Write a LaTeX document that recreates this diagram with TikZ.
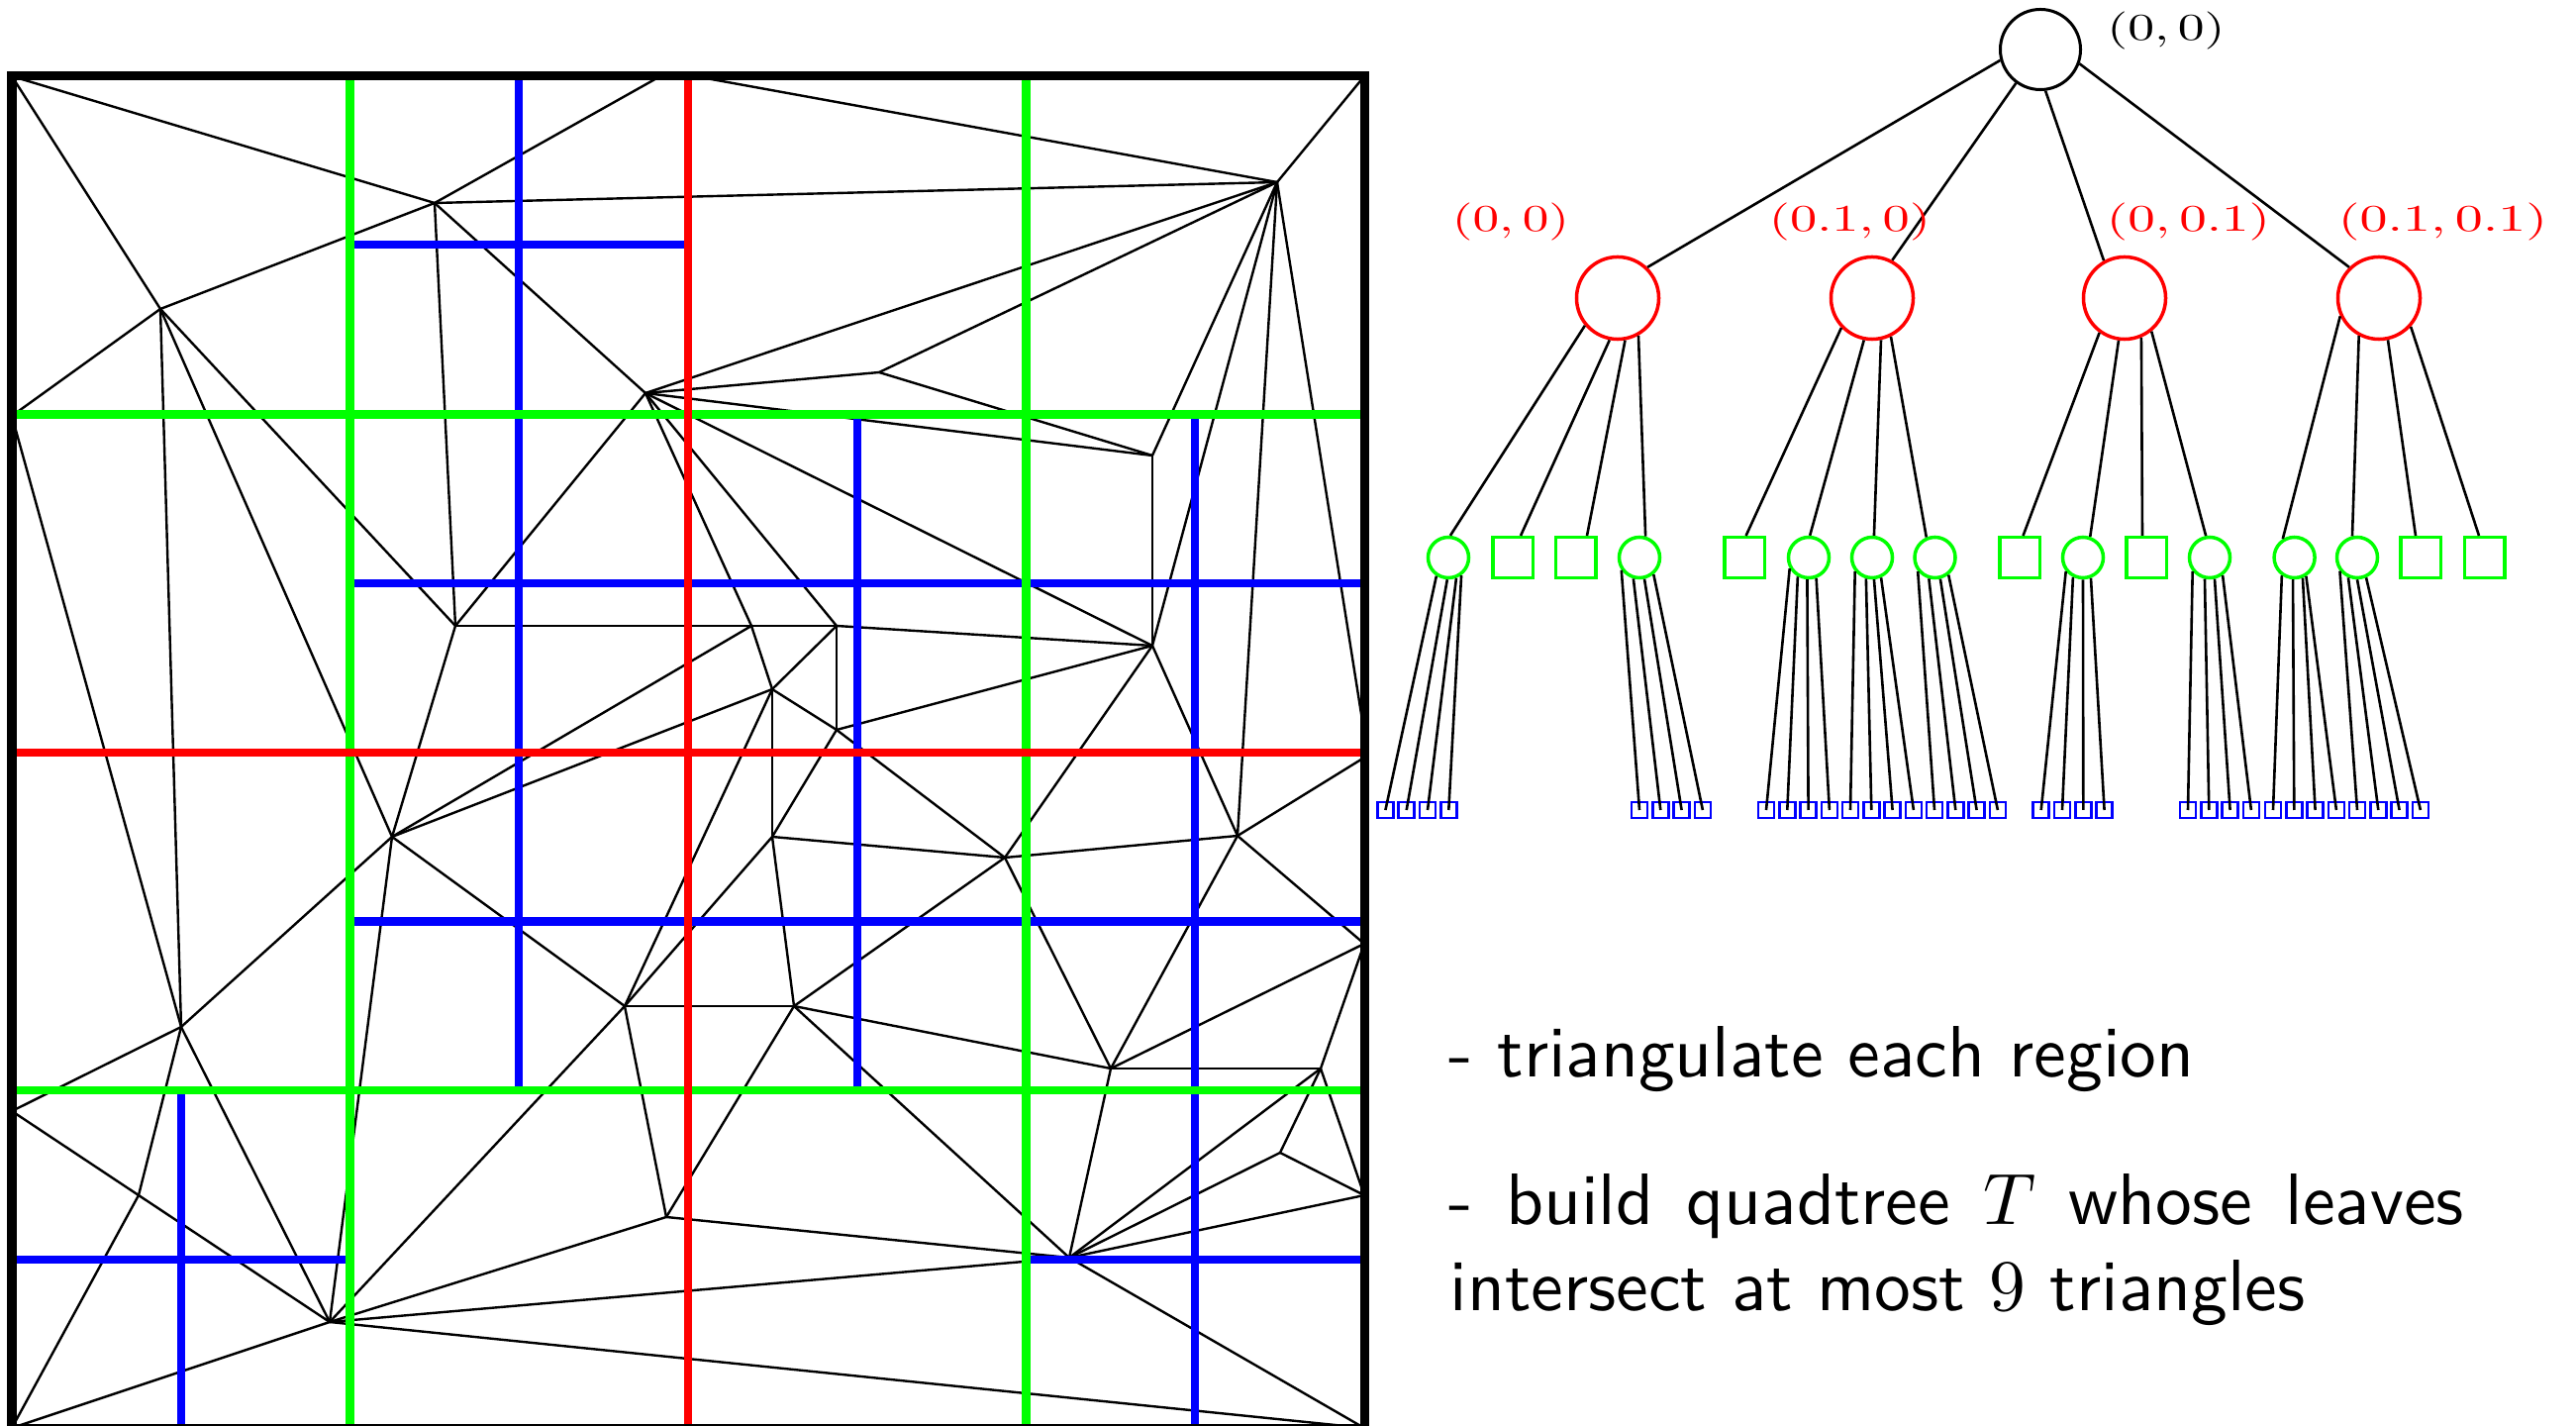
\documentclass[tikz,border=0pt]{standalone}
\usepackage{graphicx}
\definecolor{qred}{RGB}{255,0,0}
\definecolor{qgreen}{RGB}{0,255,0}
\definecolor{qblue}{RGB}{0,0,255}
\begin{document}
\begin{tikzpicture}[x=0.01cm,y=-0.01cm,
  tri/.style={line width=0.024cm, black},
  gred/.style={line width=0.085cm, qred},
  ggreen/.style={line width=0.085cm, qgreen},
  gblue/.style={line width=0.085cm, qblue},
  frame/.style={line width=0.09cm, black},
  rootc/.style={circle, draw=black, line width=0.03cm, minimum size=0.81cm, inner sep=0pt},
  redc/.style={circle, draw=qred, line width=0.035cm, minimum size=0.83cm, inner sep=0pt},
  greenc/.style={circle, draw=qgreen, line width=0.035cm, minimum size=0.41cm, inner sep=0pt},
  greens/.style={rectangle, draw=qgreen, line width=0.035cm, minimum size=0.405cm, inner sep=0pt},
  bluesq/.style={rectangle, draw=qblue, line width=0.028cm, minimum size=0.16cm, inner sep=0pt},
  tedge/.style={line width=0.026cm, black},
  lbl/.style={anchor=base, inner sep=0pt},
  txt/.style={anchor=base west, inner sep=0pt, font=\sffamily}
]
\useasboundingbox (0,0) rectangle (2602,1440);
\fill[white] (0,0) rectangle (2602,1440);
% ---------------- triangulation vertices
\coordinate (vTL) at (12,77);
\coordinate (vTR) at (1378,77);
\coordinate (vBL) at (12,1442);
\coordinate (vBR) at (1378,1442);
\coordinate (vTA) at (667,77);
\coordinate (vTB) at (702,77);
\coordinate (vE) at (12,420);
\coordinate (vLE) at (12,1122);
\coordinate (vRA) at (1378,740);
\coordinate (vRB) at (1378,765);
\coordinate (vRC) at (1378,953);
\coordinate (vRD) at (1378,1207);
\coordinate (vA) at (162,312);
\coordinate (vB) at (439,205);
\coordinate (vC) at (652,397);
\coordinate (vD) at (460,632);
\coordinate (vF) at (1290,184);
\coordinate (vK) at (888,376);
\coordinate (vL) at (1164,460);
\coordinate (vM) at (1164,652);
\coordinate (vI) at (759,632);
\coordinate (vJ) at (845,632);
\coordinate (vO) at (845,737);
\coordinate (vP) at (780,696);
\coordinate (vQ) at (780,845);
\coordinate (vG) at (396,845);
\coordinate (vH) at (183,1037);
\coordinate (vX) at (140,1207);
\coordinate (vW) at (333,1335);
\coordinate (vR) at (631,1016);
\coordinate (vS) at (673,1229);
\coordinate (vY) at (802,1016);
\coordinate (vZ) at (1015,866);
\coordinate (vN) at (1250,844);
\coordinate (vAA) at (1122,1079);
\coordinate (vAB) at (1334,1079);
\coordinate (vAC) at (1293,1164);
\coordinate (vU) at (1080,1270);
\foreach \a/\b in {TL/B, TL/A, A/B, A/E, A/H, A/G, A/D, E/H, B/TA, TB/F, TR/F, B/F, B/C, B/D,
  C/D, C/F, C/K, C/L, C/M, C/J, C/I, K/F, K/L, F/L, F/M, F/N, F/RA, L/M, D/I, I/J, D/G, I/G,
  I/P, J/P, J/M, J/O, P/O, O/M, O/Z, O/Q, P/Q, P/G, P/R, R/Q, G/R, G/H, G/W, H/LE, H/X, H/W,
  LE/X, X/W, X/BL, BL/W, W/R, W/S, W/U, W/BR, R/S, R/Y, S/Y, S/U, Q/Z, Q/Y, Y/Z, Y/AA, Y/U,
  Z/M, Z/N, Z/AA, N/M, N/AA, N/RB, N/RC, AA/RC, AA/AB, AA/U, AB/RC, AB/RD, AB/AC, AB/U,
  AC/RD, AC/U, RD/U, U/BR}
  \draw[tri] (v\a) -- (v\b);
% ---------------- quadtree lines
\draw[gblue] (524,77) -- (524,1101);
\draw[gblue] (353.5,247) -- (695,247);
\draw[gblue] (353.5,589) -- (1378,589);
\draw[gblue] (866,418.5) -- (866,1101);
\draw[gblue] (1207,418.5) -- (1207,1442);
\draw[gblue] (353.5,930.5) -- (1378,930.5);
\draw[gblue] (183,1101) -- (183,1442);
\draw[gblue] (12,1272) -- (353.5,1272);
\draw[gblue] (1036.5,1272) -- (1378,1272);
\draw[ggreen] (353.5,77) -- (353.5,1442);
\draw[ggreen] (1036.5,77) -- (1036.5,1442);
\draw[ggreen] (12,418.5) -- (1378,418.5);
\draw[ggreen] (12,1101) -- (1378,1101);
\draw[gred] (695,77) -- (695,1442);
\draw[gred] (12,760) -- (1378,760);
\draw[frame] (vTL) rectangle (vBR);
% ---------------- tree
\node[rootc] (root) at (2061,50) {};
\foreach \i/\x in {1/1634,2/1891,3/2146,4/2403}
  \node[redc] (r\i) at (\x,301) {};
\draw[tedge] (root.195) -- (r1.46);
\draw[tedge] (root.234) -- (r2.62);
\draw[tedge] (root.277) -- (r3.119);
\draw[tedge] (root.340) -- (r4.134);
\foreach \n/\x/\t/\p/\sa/\ea/\dx in {1/1463/c/1/220/85/0, 2/1528/s/1/259/north/8,
  3/1591.5/s/1/280/north/11.5, 4/1656/c/1/299/74/0,
  5/1762/s/2/224/north/1.6, 6/1827/c/2/259/87/0, 7/1891/c/2/282/85/0, 8/1954.5/c/2/296/113/0,
  9/2040/s/3/234/north/3.5, 10/2104/c/3/262/71/0, 11/2168/s/3/293/north/-4, 12/2232/c/3/309/100/0,
  13/2317.6/c/4/205/122/0, 14/2381/c/4/242/103/0, 15/2445/s/4/282/north/-5, 16/2509.5/s/4/318/north/-5.5}{
  \node[green\t] (g\n) at (\x,563) {};
  \draw[tedge] (r\p.\sa) -- ([xshift=\dx*0.01cm]g\n.\ea);
}
\foreach \g/\s/\aa/\ab/\ac/\ad in {1/1399.4/237/267/291/306, 4/1656/215/254/283/310,
  6/1784/210/240/266/290, 7/1869/219/254/275/294, 8/1954/219/254/284/308,
  10/2061.7/219/243/270/291, 12/2210/219/257/283/306, 13/2296/235/266/292/302,
  14/2381/218/246/270/294}{
  \node[bluesq] (b\g-0) at (\s,818) {};
  \node[bluesq] (b\g-1) at ({\s+21.3},818) {};
  \node[bluesq] (b\g-2) at ({\s+42.6},818) {};
  \node[bluesq] (b\g-3) at ({\s+63.9},818) {};
  \draw[tedge] (g\g.\aa) -- (b\g-0.center);
  \draw[tedge] (g\g.\ab) -- (b\g-1.center);
  \draw[tedge] (g\g.\ac) -- (b\g-2.center);
  \draw[tedge] (g\g.\ad) -- (b\g-3.center);
}
% ---------------- labels
\node[lbl] (l0) at (2188,40.5) {\resizebox{1.19cm}{0.285cm}{$(0,0)$}};
\node[lbl, text=qred] (l1) at (1526,233.5) {\resizebox{1.18cm}{0.285cm}{$(0,0)$}};
\node[lbl, text=qred] (l2) at (1868.5,233.5) {\resizebox{1.63cm}{0.285cm}{$(0.1,0)$}};
\node[lbl, text=qred] (l3) at (2210.5,233.5) {\resizebox{1.65cm}{0.285cm}{$(0,0.1)$}};
\node[lbl, text=qred] (l4) at (2467.5,233.5) {\resizebox{2.11cm}{0.285cm}{$(0.1,0.1)$}};
% ---------------- text
\node[txt] (t1) at (1463,1087) {\scalebox{2.09}{- triangulate each region}};
\node[txt] (t2) at (1463,1236) {\scalebox{2.09}{\makebox[13.95em][s]{- build quadtree $T$ whose leaves}}};
\node[txt] (t3) at (1464,1323) {\scalebox{2.09}{intersect at most $9$ triangles}};
\end{tikzpicture}
\end{document}
